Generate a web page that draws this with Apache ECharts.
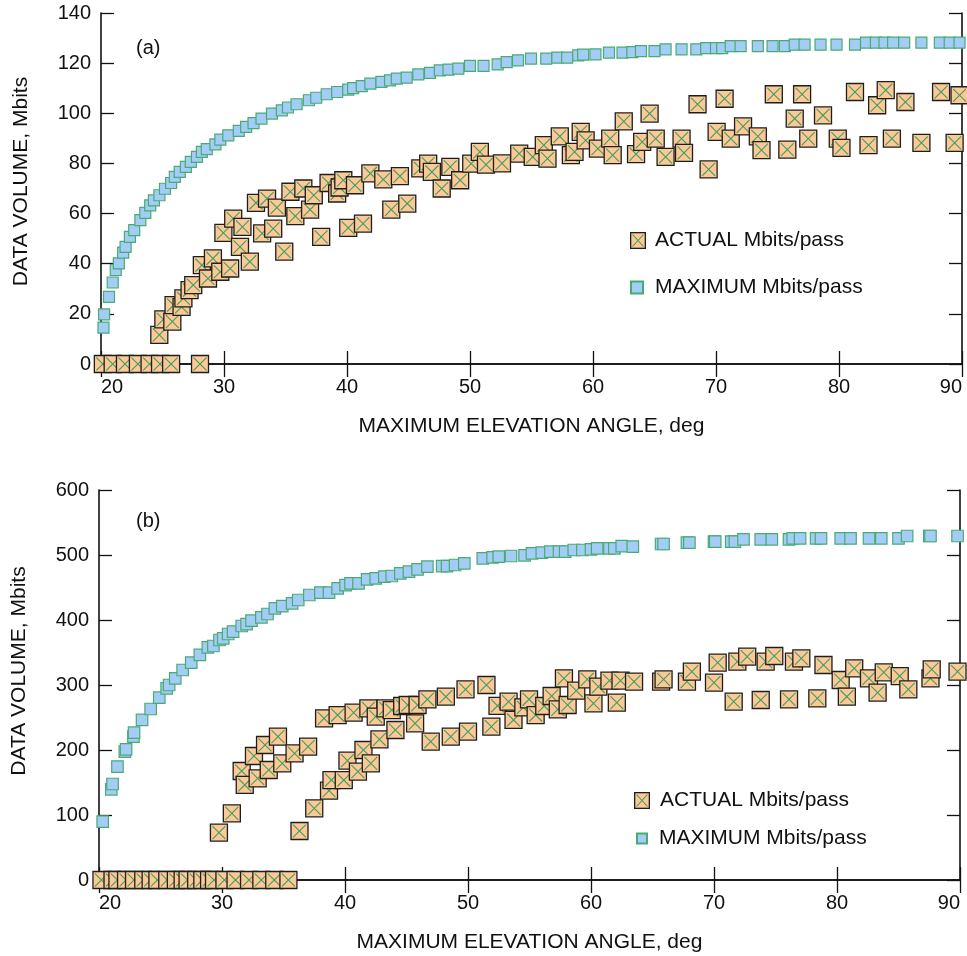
<!DOCTYPE html>
<html>
<head>
<meta charset="utf-8">
<title>Data volume per pass vs maximum elevation angle</title>
<script src="https://cdn.jsdelivr.net/npm/echarts@6/dist/echarts.min.js"></script>
<style>
  html, body { margin: 0; padding: 0; background: #fff; }
  #chart { width: 967px; height: 956px; }
</style>
</head>
<body>
<div id="chart"></div>
<script>
// ---------- Panel (a): maximum elevation angle (deg) and Mbits per pass ----------
const maxAngleA = [20.2,20.25,20.65,20.95,21.2,21.45,21.8,22.0,22.35,22.7,23.2,23.6,24.0,24.3,24.75,25.2,25.7,26.0,26.4,26.9,27.3,27.8,28.2,28.6,29.3,29.7,30.35,31.2,31.8,32.4,33.05,33.9,34.7,35.2,35.9,36.9,37.5,38.35,39.2,40.1,40.5,41.2,41.9,42.8,43.5,44.05,44.85,45.8,46.75,47.55,48.25,49.05,50.0,51.1,52.25,52.98,53.9,54.96,56.2,57.1,57.9,58.8,59.2,60.2,61.3,62.4,63.2,63.9,65.0,65.9,67.2,68.4,69.2,70.0,70.5,71.2,72.0,73.4,74.6,75.6,76.4,77.2,78.5,79.8,81.3,82.2,83.0,83.7,84.4,85.3,86.7,88.2,89.0,89.8];
const maxMbitsA = [14.5,19.8,26.8,32.5,37.5,40.1,44.4,46.7,50.7,53.4,57.4,60.3,63.3,65.3,67.3,69.9,72.2,74.6,76.6,78.6,80.6,82.6,84.6,85.7,87.6,89.5,91.2,93.0,94.6,96.1,97.9,99.9,101.2,102.3,103.6,105.2,106.2,107.6,108.5,109.4,110.0,110.8,111.8,112.5,113.1,113.8,114.2,115.5,116.1,117.1,117.4,117.8,118.9,118.9,119.5,120.4,121.1,121.8,121.8,122.2,122.2,123.1,123.4,123.5,124.2,124.2,124.4,124.8,124.8,125.5,125.5,125.5,126.0,126.0,126.0,126.8,126.8,126.8,126.8,126.8,127.4,127.4,127.4,127.4,127.4,128.2,128.2,128.2,128.2,128.2,128.2,128.2,128.2,128.2];

const actAngleA = [20.15,20.95,21.95,23.0,23.95,24.8,25.7,28.05,24.74,25.07,25.8,25.9,26.55,26.7,27.2,27.5,28.2,28.7,29.1,29.7,30.5,29.95,30.75,31.3,31.5,32.1,32.6,33.5,33.1,34.0,34.3,34.9,35.4,35.8,36.45,37.0,37.3,37.9,38.5,39.2,39.4,39.7,40.1,40.65,41.3,41.9,42.95,43.6,44.3,44.9,45.96,46.6,46.9,47.7,48.4,49.2,50.1,50.8,51.3,52.6,54.0,55.1,56.0,56.3,57.3,58.2,58.5,59.0,59.4,60.4,61.4,61.6,62.5,63.5,64.0,64.6,65.1,65.9,67.2,67.4,68.5,69.4,70.05,70.7,71.2,72.2,73.4,73.7,74.7,75.8,76.4,77.0,77.5,78.7,79.9,80.2,81.3,82.4,83.1,83.8,84.3,85.4,86.7,88.3,89.4,89.8];
const actMbitsA = [0,0,0,0,0,0,0,0,11.6,17.8,16.9,23.5,22.8,26.2,29.5,31.5,39.4,34.1,42.1,36.8,38.1,52.3,58.0,46.7,54.7,40.8,64.3,66.0,52.1,54.0,62.4,44.8,68.7,59.0,70.0,61.6,67.3,50.7,72.2,68.0,70.4,73.3,54.3,71.3,56.0,76.0,73.6,61.6,74.9,64.0,78.0,79.9,76.6,70.0,78.6,73.3,79.9,84.6,79.5,80.0,83.9,82.6,87.3,81.9,90.8,83.3,84.6,92.6,89.2,85.9,89.9,83.3,96.8,83.7,88.6,99.9,89.9,82.6,89.9,84.2,103.6,77.6,92.6,105.8,89.9,94.8,90.8,85.3,107.6,85.5,97.9,107.6,89.9,99.2,89.9,86.2,108.5,87.3,103.2,109.2,89.9,104.5,88.2,108.5,88.2,107.2];

// ---------- Panel (b) ----------
const maxAngleB = [20.3,21.0,21.1,21.5,22.1,22.2,22.8,22.85,23.5,24.2,24.9,25.5,25.7,26.2,26.8,27.5,28.2,28.85,29.3,29.8,30.1,30.5,30.9,31.6,32.0,32.4,33.2,33.7,34.3,34.9,35.7,36.2,37.1,38.0,38.7,39.4,40.05,40.45,41.1,41.8,42.5,43.2,43.8,44.5,45.2,45.9,46.7,47.9,48.3,48.95,49.7,51.2,52.0,52.5,53.5,54.6,55.2,56.0,56.7,57.4,57.9,58.6,59.3,60.0,60.5,61.5,61.9,62.5,63.4,65.7,65.9,67.8,68.0,70.0,70.1,71.4,71.7,72.4,73.8,74.7,76.1,76.4,77.0,78.3,78.7,80.3,81.1,82.6,83.6,85.0,85.7,87.5,87.6,89.8];
const maxMbitsB = [89.7,139.5,147.7,174.4,197.4,201.0,220.5,226.7,246.2,263.1,280.5,294.9,300.0,310.3,323.1,334.4,346.2,358.0,360.0,369.2,371.8,378.5,382.0,390.8,393.8,399.0,404.1,409.2,418.0,421.5,425.6,430.8,438.5,442.0,442.0,448.7,453.8,456.4,456.4,462.6,464.1,466.7,467.7,471.8,474.4,477.9,482.0,483.0,483.0,484.6,487.2,494.9,496.4,497.4,498.5,499.5,502.6,503.6,505.1,505.1,505.1,507.7,507.7,508.7,510.3,510.3,510.3,513.8,512.8,516.9,516.9,519.0,519.0,520.5,520.5,520.5,520.5,524.1,524.1,524.1,524.1,525.6,525.6,525.6,525.6,525.6,525.6,525.6,525.6,525.6,529.2,529.2,529.2,529.2];

const actAngleB = [20.2,21.1,21.5,22.2,22.85,23.6,24.2,24.75,25.55,26.25,26.8,27.2,27.9,28.4,28.95,29.35,30.2,31.1,32.2,33.2,34.25,35.4,29.75,30.8,31.6,31.85,32.6,32.9,33.5,33.8,34.55,34.9,35.9,36.3,37.0,37.5,38.3,38.7,38.9,39.4,39.9,40.2,40.7,41.05,41.5,41.9,42.1,42.5,42.8,43.3,43.8,44.1,44.65,45.1,45.7,45.9,46.7,46.97,48.2,48.6,49.8,50.0,51.5,51.9,52.4,53.3,53.7,54.5,54.96,55.5,56.2,56.8,57.3,57.8,58.1,58.8,59.7,60.2,60.6,61.5,62.1,62.4,63.5,65.7,65.9,67.8,68.2,70.0,70.3,71.6,71.9,72.7,73.8,74.2,74.9,76.1,76.5,77.1,78.4,78.9,80.3,80.8,81.4,82.6,83.3,83.8,85.1,85.8,87.6,87.7,89.8];
const actMbitsB = [0,0,0,0,0,0,0,0,0,0,0,0,0,0,0,0,0,0,0,0,0,0,72.8,102.6,167.7,146.2,190.8,156.4,207.7,169.2,220.5,179.5,194.9,75.4,205.1,110.3,248.7,137.4,153.8,253.8,153.8,183.6,257.4,166.7,200.0,264.1,179.5,251.3,216.4,264.1,261.5,230.8,267.7,269.2,241.0,269.2,278.0,212.8,282.0,220.5,293.3,228.2,300.0,235.9,268.0,274.4,246.2,265.6,278.0,253.8,267.7,283.1,262.6,310.3,269.2,291.3,308.7,271.8,297.4,306.7,272.8,306.7,305.1,305.1,308.7,305.1,320.5,303.6,334.4,274.4,335.9,343.6,276.9,335.9,344.6,277.9,335.9,341.0,279.5,330.8,307.7,282.0,325.6,310.3,288.2,319.5,313.8,293.3,310.3,324.1,320.5];

const ACTUAL = 'ACTUAL Mbits/pass';
const MAXIMUM = 'MAXIMUM Mbits/pass';

const FONT = '"Liberation Sans", Arial, Helvetica, sans-serif';
const INK = '#111';
const ORANGE = '#fcc896';
const BLUE = '#a3cdf7';
const GREEN = '#3f9e62';
const GREEN_EDGE = '#49ab74';

const zip = (xs, ys) => xs.map((x, i) => [x, ys[i]]);

// Peach square with a black edge and a green cross, drawn point by point
function makeActualRenderer(size) {
  return function (params, api) {
    const p = api.coord([api.value(0), api.value(1)]);
    const h = size / 2;
    const inset = size * 0.12;
    return {
      type: 'group',
      children: [
        { type: 'rect', shape: { x: p[0] - h, y: p[1] - h, width: size, height: size },
          style: { fill: ORANGE, stroke: '#1e1e1e', lineWidth: 1.3 } },
        { type: 'line', shape: { x1: p[0] - h + inset, y1: p[1] - h + inset, x2: p[0] + h - inset, y2: p[1] + h - inset },
          style: { stroke: GREEN, lineWidth: 1.1 } },
        { type: 'line', shape: { x1: p[0] + h - inset, y1: p[1] - h + inset, x2: p[0] - h + inset, y2: p[1] + h - inset },
          style: { stroke: GREEN, lineWidth: 1.1 } }
      ]
    };
  };
}

const actualIconSvg =
  '<svg xmlns="http://www.w3.org/2000/svg" width="32" height="34" viewBox="0 0 32 34">' +
  '<rect x="1.3" y="1.3" width="29.4" height="31.4" fill="' + ORANGE + '" stroke="#1e1e1e" stroke-width="2.6"/>' +
  '<path d="M5 5L27 29M27 5L5 29" stroke="' + GREEN + '" stroke-width="2.2" fill="none"/></svg>';
const actualIcon = 'image://data:image/svg+xml;charset=utf-8,' + encodeURIComponent(actualIconSvg);

const axisLine = { show: true, lineStyle: { color: INK, width: 1.6 } };
const tickIn = { show: true, inside: true, length: 13, lineStyle: { color: INK, width: 1.3 } };
const labelStyle = { color: INK, fontFamily: FONT, fontSize: 20 };
const nameStyle = { color: INK, fontFamily: FONT, fontSize: 21 };

function xAxes(gridIndex) {
  return [
    { type: 'value', gridIndex, min: 20, max: 90, interval: 10, position: 'bottom',
      axisLine, axisTick: tickIn, splitLine: { show: false },
      axisLabel: Object.assign({ margin: 13, alignMinLabel: 'left', alignMaxLabel: 'right' }, labelStyle),
      name: 'MAXIMUM ELEVATION ANGLE, deg', nameLocation: 'middle', nameGap: 52, nameTextStyle: nameStyle },
    { type: 'value', gridIndex, min: 20, max: 90, interval: 10, position: 'top',
      axisLine, axisTick: tickIn, splitLine: { show: false }, axisLabel: { show: false } }
  ];
}

function yAxes(gridIndex, max, interval, namePad) {
  return [
    { type: 'value', gridIndex, min: 0, max, interval, position: 'left',
      axisLine, axisTick: tickIn, splitLine: { show: false },
      axisLabel: Object.assign({ margin: 10 }, labelStyle),
      name: 'DATA VOLUME, Mbits', nameLocation: 'middle', nameGap: 69,
      nameTextStyle: Object.assign({ padding: [0, 0, 0, namePad] }, nameStyle) },
    { type: 'value', gridIndex, min: 0, max, interval, position: 'right',
      axisLine, axisTick: tickIn, splitLine: { show: false }, axisLabel: { show: false } }
  ];
}

function legendItem(left, top, iconW, iconH, textPad, name, icon) {
  return {
    left, top, orient: 'vertical', selectedMode: false, padding: 0,
    itemWidth: iconW, itemHeight: iconH,
    data: [{ name, icon }],
    textStyle: { color: INK, fontFamily: FONT, fontSize: 21, padding: [0, 0, 0, textPad] }
  };
}

const option = {
  backgroundColor: '#fff',
  animation: false,
  title: [
    { text: '(a)', left: 131, top: 33, textStyle: { color: INK, fontFamily: FONT, fontSize: 20, fontWeight: 'normal' } },
    { text: '(b)', left: 131, top: 506, textStyle: { color: INK, fontFamily: FONT, fontSize: 20, fontWeight: 'normal' } }
  ],
  grid: [
    { left: 101, right: 5, top: 13, height: 351 },
    { left: 99, right: 7, top: 490, height: 390 }
  ],
  xAxis: [...xAxes(0), ...xAxes(1)],
  yAxis: [...yAxes(0, 140, 20, 14), ...yAxes(1, 600, 100, 28)],
  legend: [
    legendItem(630, 230, 16, 17, 4, ACTUAL, actualIcon),
    legendItem(630, 277, 12, 12, 7, MAXIMUM, 'rect'),
    legendItem(634, 790, 16, 18, 5, ACTUAL, actualIcon),
    legendItem(636, 828, 10, 10, 7, MAXIMUM, 'rect')
  ],
  series: [
    { name: MAXIMUM, type: 'scatter', xAxisIndex: 0, yAxisIndex: 0, symbol: 'rect', symbolSize: 11,
      itemStyle: { color: BLUE, borderColor: GREEN_EDGE, borderWidth: 1.2, opacity: 1 },
      data: zip(maxAngleA, maxMbitsA), clip: false, z: 3 },
    { name: ACTUAL, type: 'custom', xAxisIndex: 0, yAxisIndex: 0, renderItem: makeActualRenderer(17),
      itemStyle: { color: ORANGE }, encode: { x: 0, y: 1 },
      data: zip(actAngleA, actMbitsA), z: 4 },
    { name: MAXIMUM, type: 'scatter', xAxisIndex: 2, yAxisIndex: 2, symbol: 'rect', symbolSize: 11.5,
      itemStyle: { color: BLUE, borderColor: GREEN_EDGE, borderWidth: 1.2, opacity: 1 },
      data: zip(maxAngleB, maxMbitsB), clip: false, z: 3 },
    { name: ACTUAL, type: 'custom', xAxisIndex: 2, yAxisIndex: 2, renderItem: makeActualRenderer(17),
      itemStyle: { color: ORANGE }, encode: { x: 0, y: 1 },
      data: zip(actAngleB, actMbitsB), z: 4 }
  ]
};

const chart = echarts.init(document.getElementById('chart'), null, { renderer: 'canvas' });
chart.setOption(option);
</script>
</body>
</html>
